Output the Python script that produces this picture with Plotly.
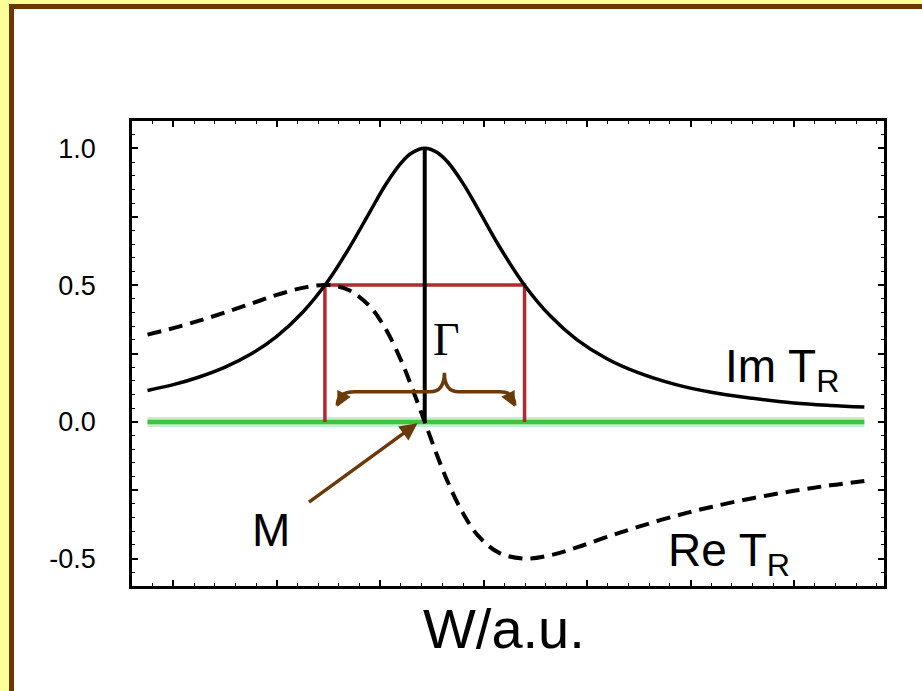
import plotly.graph_objects as go

# Resonance line shape: imaginary and real parts of T_R against W (arbitrary units)
W = [0.75, 1.0, 1.25, 1.5, 1.75, 2.0, 2.25, 2.5, 2.7, 2.9, 3.05, 3.2, 3.3, 3.43,
     3.55, 3.65, 3.8, 3.95, 4.15, 4.4, 4.65, 4.9, 5.2, 5.5, 5.85, 6.2, 6.6, 7.0,
     7.35, 7.68]
IM_T = [0.115, 0.136, 0.164, 0.200, 0.248, 0.313, 0.401, 0.518, 0.636, 0.768,
        0.866, 0.946, 0.982, 1.000, 0.985, 0.951, 0.872, 0.775, 0.642, 0.497,
        0.385, 0.301, 0.229, 0.179, 0.137, 0.108, 0.086, 0.069, 0.060, 0.054]
RE_T = [0.319, 0.343, 0.370, 0.400, 0.432, 0.464, 0.490, 0.500, 0.481, 0.422,
        0.341, 0.226, 0.132, 0.000, -0.123, -0.217, -0.334, -0.418, -0.479,
        -0.500, -0.487, -0.459, -0.420, -0.383, -0.344, -0.311, -0.279, -0.252,
        -0.232, -0.216]

M_POS = 3.43        # resonance position M
GAMMA = 1.93        # full width Γ
HALF_MAX = 0.5

Y_TICKS = [-0.5, -0.25, 0.0, 0.25, 0.5, 0.75, 1.0]
Y_TICK_TEXT = ["-0.5", "", "0.0", "", "0.5", "", "1.0"]

BROWN = "#6B3A0A"
RED = "#B02A2E"
GREEN = "#3EC43E"

FIG_W, FIG_H = 922, 691
ML, MR, MT, MB = 132, 38, 121, 105
PLOT_W = FIG_W - ML - MR
PLOT_H = FIG_H - MT - MB


def px_x(px):
    return (px - ML) / PLOT_W


def px_y(py):
    return (FIG_H - MB - py) / PLOT_H


fig = go.Figure()

# zero line with a soft glow
fig.add_trace(go.Scatter(x=[W[0], W[-1]], y=[0, 0], mode="lines",
                         line=dict(color="rgba(90,215,90,0.35)", width=10),
                         hoverinfo="skip"))
fig.add_trace(go.Scatter(x=[W[0], W[-1]], y=[0, 0], mode="lines",
                         line=dict(color=GREEN, width=4.5), hoverinfo="skip"))

# half-width box
lo, hi = M_POS - GAMMA / 2, M_POS + GAMMA / 2
fig.add_trace(go.Scatter(x=[lo, lo, hi, hi], y=[0, HALF_MAX, HALF_MAX, 0],
                         mode="lines", line=dict(color=RED, width=3.5)))

# Re T_R (dashed) and Im T_R (solid)
fig.add_trace(go.Scatter(x=W, y=RE_T, mode="lines",
                         line=dict(color="black", width=4, dash="14px,8px",
                                   shape="spline", smoothing=1)))
fig.add_trace(go.Scatter(x=W, y=IM_T, mode="lines",
                         line=dict(color="black", width=3.5,
                                   shape="spline", smoothing=1)))

# peak marker at M
fig.add_trace(go.Scatter(x=[M_POS, M_POS], y=[0, max(IM_T)], mode="lines",
                         line=dict(color="black", width=4)))

# curly brace spanning the width
lt = lo + 0.12
rt = hi - 0.095
cusp = M_POS + 0.19
y_tip, y_bar, y_cusp = 0.06, 0.11, 0.18
brace = (f"M {lt},{y_tip} Q {lt},{y_bar} {lt + 0.17},{y_bar} "
         f"L {cusp - 0.14},{y_bar} Q {cusp},{y_bar} {cusp},{y_cusp} "
         f"Q {cusp},{y_bar} {cusp + 0.14},{y_bar} "
         f"L {rt - 0.15},{y_bar} Q {rt},{y_bar} {rt},{y_tip}")

shapes = [
    dict(type="rect", xref="paper", yref="paper", layer="below",
         x0=px_x(9), x1=px_x(940), y0=px_y(700), y1=px_y(4),
         fillcolor="#6B3700", line=dict(width=0)),
    dict(type="rect", xref="paper", yref="paper", layer="below",
         x0=px_x(14), x1=px_x(940), y0=px_y(700), y1=px_y(9),
         fillcolor="white", line=dict(width=0)),
    dict(type="path", xref="x", yref="y", path=brace,
         line=dict(color=BROWN, width=3.5)),
]

label_font = dict(family="Liberation Sans, Arial, sans-serif", size=46, color="black")
annotations = [
    # brace arrowheads
    dict(x=lt, y=y_tip - 0.005, xref="x", yref="y", text="", showarrow=True,
         ax=4, ay=-8, arrowhead=2, arrowsize=1, arrowwidth=3, arrowcolor=BROWN),
    dict(x=rt, y=y_tip - 0.005, xref="x", yref="y", text="", showarrow=True,
         ax=-4, ay=-8, arrowhead=2, arrowsize=1, arrowwidth=3, arrowcolor=BROWN),
    # arrow pointing at M
    dict(x=M_POS - 0.07, y=-0.005, xref="x", yref="y", text="", showarrow=True,
         ax=-110, ay=80, arrowhead=2, arrowsize=1, arrowwidth=3.5,
         arrowcolor=BROWN, standoff=0),
    dict(x=1.948, y=-0.394, xref="x", yref="y", text="M", showarrow=False,
         font=label_font),
    dict(x=3.64, y=0.303, xref="x", yref="y", text="Γ", showarrow=False,
         font=dict(family="Liberation Serif, Times New Roman, serif", size=46,
                   color="black")),
    dict(x=6.31, y=0.19, xref="x", yref="y", text="Im T<sub>R</sub>",
         xanchor="left", yanchor="middle", showarrow=False, font=label_font),
    dict(x=5.76, y=-0.48, xref="x", yref="y", text="Re T<sub>R</sub>",
         xanchor="left", yanchor="middle", showarrow=False, font=label_font),
    dict(x=px_x(504), y=px_y(628), xref="paper", yref="paper", text="W/a.u.",
         xanchor="center", yanchor="middle", showarrow=False,
         font=dict(family="Liberation Sans Narrow, Arial Narrow, Liberation Sans, sans-serif",
                   size=56, color="black")),
]

axis_common = dict(showline=True, linecolor="black", linewidth=2.5,
                   mirror="allticks", ticks="inside", tickcolor="black",
                   showgrid=False, zeroline=False)

fig.update_layout(
    width=FIG_W, height=FIG_H,
    margin=dict(l=ML, r=MR, t=MT, b=MB),
    paper_bgcolor="#FFFF99", plot_bgcolor="white",
    showlegend=False,
    shapes=shapes, annotations=annotations,
    xaxis=dict(range=[0.6, 7.87], tickmode="linear", tick0=0, dtick=1,
               ticklen=6, tickwidth=1.5, showticklabels=False,
               minor=dict(dtick=0.2, tick0=0, ticklen=3, tickwidth=1,
                          ticks="inside", tickcolor="black"),
               **axis_common),
    yaxis=dict(range=[-0.6, 1.1], tickmode="array", tickvals=Y_TICKS,
               ticktext=Y_TICK_TEXT, ticklen=6, tickwidth=1.5,
               ticklabelstandoff=28,
               tickfont=dict(family="Liberation Sans, Arial, sans-serif",
                             size=27, color="black"),
               minor=dict(dtick=0.05, tick0=0, ticklen=3, tickwidth=1,
                          ticks="inside", tickcolor="black"),
               **axis_common),
)

fig.write_html("out.html")
